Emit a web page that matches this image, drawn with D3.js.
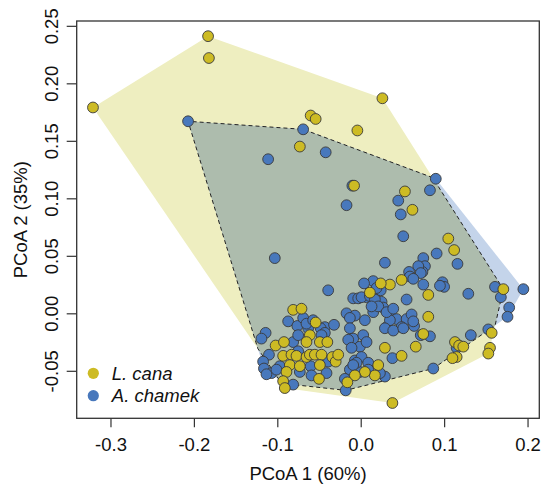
<!DOCTYPE html>
<html>
<head>
<meta charset="utf-8">
<script src="https://cdn.jsdelivr.net/npm/d3@7"></script>
<style>
  body { margin: 0; background: #fff; }
  text { font-family: "Liberation Sans", Arial, sans-serif; fill: #111; }
</style>
</head>
<body>
<div id="chart"></div>
<script>
// DATA //

// L. cana samples, [PCoA1, PCoA2]
const canaPts = [
  [-0.321,0.179],[-0.183,0.241],[-0.182,0.222],[0.026,0.187],[-0.060,0.172],[-0.054,0.169],[-0.004,0.159],[-0.073,0.145],
  [-0.008,0.111],[0.053,0.106],[0.062,0.090],[0.105,0.065],[0.112,0.055],[0.038,-0.078],[0.049,0.029],[0.035,0.025],
  [0.024,0.026],[0.011,0.018],[0.081,0.016],[0.171,0.021],[-0.081,0.003],[-0.071,0.004],[0.081,-0.003],[0.075,-0.018],
  [0.157,-0.017],[0.113,-0.025],[0.118,-0.028],[0.123,-0.029],[0.115,-0.038],[0.110,-0.039],[0.155,-0.030],[0.153,-0.035],
  [0.029,-0.030],[0.066,-0.029],[0.049,-0.037],[0.021,-0.045],[0.017,-0.054],[0.005,-0.051],[-0.007,-0.054],[-0.016,-0.060],
  [-0.054,-0.008],[-0.061,-0.019],[-0.065,-0.025],[-0.049,-0.025],[-0.040,-0.025],[-0.102,-0.028],[-0.092,-0.025],[-0.093,-0.037],
  [-0.083,-0.036],[-0.077,-0.037],[-0.065,-0.038],[-0.061,-0.036],[-0.055,-0.036],[-0.047,-0.036],[-0.085,-0.045],[-0.073,-0.046],
  [-0.049,-0.045],[-0.034,-0.038],[-0.030,-0.042],[-0.089,-0.051],[-0.093,-0.059],[-0.091,-0.065],[-0.050,-0.057],[-0.027,-0.036]
];

// A. chamek samples, [PCoA1, PCoA2]
const chamekPts = [
  [-0.207,0.167],[-0.111,0.134],[-0.069,0.160],[-0.042,0.140],[0.090,0.117],[0.083,0.107],[-0.010,0.111],[-0.017,0.094],
  [0.045,0.098],[0.048,0.086],[0.051,0.067],[-0.103,0.048],[0.029,0.044],[0.091,0.052],[0.116,0.043],[0.075,0.048],
  [0.077,0.041],[0.074,0.036],[0.069,0.041],[0.058,0.036],[0.059,0.032],[0.015,0.028],[0.004,0.026],[0.024,0.020],
  [0.019,0.022],[0.075,0.025],[0.098,0.027],[0.100,0.023],[0.095,0.024],[0.129,0.017],[0.161,0.023],[0.195,0.021],
  [0.168,0.014],[0.178,0.005],[0.176,-0.003],[-0.039,0.020],[0.055,0.012],[-0.009,0.013],[-0.003,0.013],[0.007,0.014],
  [0.025,0.010],[0.027,0.005],[-0.017,0.000],[-0.007,-0.002],[0.015,0.001],[0.005,-0.006],[0.037,-0.004],[0.043,-0.005],
  [0.055,-0.005],[0.061,-0.001],[0.031,-0.012],[0.049,-0.012],[0.064,-0.011],[0.083,-0.020],[0.132,-0.019],[0.153,-0.014],
  [0.115,-0.030],[0.087,-0.048],[0.038,-0.039],[-0.018,-0.067],[-0.087,-0.007],[-0.076,-0.011],[-0.069,-0.004],[-0.063,-0.013],
  [-0.043,-0.012],[-0.032,-0.010],[-0.114,-0.017],[-0.119,-0.022],[-0.081,-0.025],[-0.075,-0.033],[-0.110,-0.036],[-0.117,-0.042],
  [-0.116,-0.048],[-0.107,-0.052],[-0.097,-0.046],[-0.060,-0.046],[-0.039,-0.042],[-0.081,-0.062],[-0.041,-0.052],[0.029,-0.055],
  [0.001,0.014],[0.011,0.015],[0.017,0.012],[0.021,0.006],[-0.013,-0.004],[-0.013,-0.013],[-0.009,-0.022],[0.003,-0.019],
  [-0.001,-0.029],[0.007,-0.025],[0.035,-0.006],[0.063,-0.007],[0.029,-0.013],[0.039,-0.015],[0.051,-0.013],[0.072,-0.019],
  [-0.007,-0.041],[0.001,-0.038],[0.009,-0.043],[-0.013,-0.049],[-0.001,-0.051],[0.009,-0.049],[0.023,-0.052],[-0.019,-0.057],
  [0.072,0.035],[0.063,0.030],[-0.113,-0.053],[-0.101,-0.049],[-0.048,-0.013],[-0.075,-0.019],[-0.059,-0.054],[-0.043,-0.017],
  [-0.073,-0.051],[-0.015,-0.023],[-0.005,-0.043],[-0.065,-0.009],[-0.057,-0.006],[-0.011,-0.030],[-0.009,-0.045],[-0.047,-0.019],
  [0.031,0.001],[0.039,0.004],[0.013,0.006]
];

const xTicks = [-0.3, -0.2, -0.1, 0.0, 0.1, 0.2];
const yTicks = [-0.05, 0.00, 0.05, 0.10, 0.15, 0.20, 0.25];
const xLimits = [-0.3405, 0.2141];
const yLimits = [-0.0913, 0.2542];
const species = ["L. cana", "A. chamek"];
const xTitle = "PCoA 1 (60%)", yTitle = "PCoA 2 (35%)";

// STYLE //
const ptColor   = {"L. cana": "#cdbb24", "A. chamek": "#4878bc"};
const hullColor = {"L. cana": "#eeeec0", "A. chamek": "#c4d4ea"};
const overlapColor = "#adbcad";

// DIMENSIONS //
const W = 542, H = 485;
const plot = {left: 76.7, right: 539.3, top: 21, bottom: 418.3};

const svg = d3.select("#chart").append("svg")
  .attr("width", W).attr("height", H);

const x = d3.scaleLinear().domain(xLimits).range([plot.left, plot.right]);
const y = d3.scaleLinear().domain(yLimits).range([plot.bottom, plot.top]);

// HULLS //
const toPx = p => [x(p[0]), y(p[1])];
const hullCana = d3.polygonHull(canaPts.map(toPx));
const hullChamek = d3.polygonHull(chamekPts.map(toPx));

// clip one convex polygon by another (Sutherland-Hodgman)
function clipPoly(subject, clip) {
  let area = 0;
  for (let i = 0; i < clip.length; i++) {
    const a = clip[i], b = clip[(i + 1) % clip.length];
    area += a[0] * b[1] - b[0] * a[1];
  }
  const s = Math.sign(area);
  const inside = (p, a, b) => s * ((b[0] - a[0]) * (p[1] - a[1]) - (b[1] - a[1]) * (p[0] - a[0])) >= 0;
  const cross = (p, q, a, b) => {
    const d = (p[0] - q[0]) * (a[1] - b[1]) - (p[1] - q[1]) * (a[0] - b[0]);
    const t = ((p[0] - a[0]) * (a[1] - b[1]) - (p[1] - a[1]) * (a[0] - b[0])) / d;
    return [p[0] + t * (q[0] - p[0]), p[1] + t * (q[1] - p[1])];
  };
  let out = subject.slice();
  for (let i = 0; i < clip.length; i++) {
    const a = clip[i], b = clip[(i + 1) % clip.length];
    const inp = out; out = [];
    for (let j = 0; j < inp.length; j++) {
      const p = inp[j], q = inp[(j + 1) % inp.length];
      const pin = inside(p, a, b), qin = inside(q, a, b);
      if (pin) out.push(p);
      if (pin !== qin) out.push(cross(p, q, a, b));
    }
  }
  return out;
}
const overlap = clipPoly(hullChamek, hullCana);

const poly = pts => "M" + pts.map(p => p.join(",")).join("L") + "Z";

svg.append("path").attr("d", poly(hullCana)).attr("fill", hullColor["L. cana"]);
svg.append("path").attr("d", poly(hullChamek)).attr("fill", hullColor["A. chamek"]);
svg.append("path").attr("d", poly(overlap))
  .attr("fill", overlapColor)
  .attr("stroke", "#222").attr("stroke-width", 1)
  .attr("stroke-dasharray", "4,3");

// POINTS //
const groups = [["A. chamek", chamekPts], ["L. cana", canaPts]];
groups.forEach(([name, pts]) => {
  svg.append("g").selectAll("circle")
    .data(pts).enter().append("circle")
    .attr("cx", d => x(d[0]))
    .attr("cy", d => y(d[1]))
    .attr("r", 5.4)
    .attr("fill", ptColor[name])
    .attr("stroke", "#3a3a3a")
    .attr("stroke-width", 0.9);
});

// BOX //
svg.append("rect")
  .attr("x", plot.left).attr("y", plot.top)
  .attr("width", plot.right - plot.left).attr("height", plot.bottom - plot.top)
  .attr("fill", "none").attr("stroke", "#333").attr("stroke-width", 1.3);

// AXES //
const fs = "18.5px";
const fmt = f => v => d3.format(f)(v).replace("\u2212", "-");

const xAxis = svg.append("g")
  .attr("transform", "translate(0," + plot.bottom + ")")
  .call(d3.axisBottom(x).tickValues(xTicks).tickSize(9).tickFormat(fmt(".1f")));
xAxis.select(".domain").remove();
xAxis.selectAll("line").attr("stroke", "#333").attr("stroke-width", 1.2);
xAxis.selectAll("text").attr("y", 32.4).attr("dy", 0)
  .style("font-size", fs).attr("fill", "#111");

const yAxis = svg.append("g")
  .attr("transform", "translate(" + plot.left + ",0)")
  .call(d3.axisLeft(y).tickValues(yTicks).tickSize(10).tickFormat(fmt(".2f")));
yAxis.select(".domain").remove();
yAxis.selectAll("line").attr("stroke", "#333").attr("stroke-width", 1.2);
yAxis.selectAll("text")
  .attr("x", 0).attr("dy", 0)
  .attr("text-anchor", "middle")
  .attr("transform", "translate(-18.2,0) rotate(-90)")
  .style("font-size", fs).attr("fill", "#111");

// axis titles
svg.append("text")
  .attr("x", (plot.left + plot.right) / 2).attr("y", 480)
  .attr("text-anchor", "middle")
  .style("font-size", fs)
  .text(xTitle);

svg.append("text")
  .attr("transform", "translate(27," + (plot.top + plot.bottom) / 2 + ") rotate(-90)")
  .attr("text-anchor", "middle")
  .style("font-size", fs)
  .text(yTitle);

// LEGEND //
const legend = svg.append("g").attr("transform", "translate(93.3,373.3)");
species.forEach((name, i) => {
  legend.append("circle")
    .attr("cx", 0).attr("cy", i * 22.4)
    .attr("r", 5.6)
    .attr("fill", ptColor[name]);
  legend.append("text")
    .attr("x", 18.5).attr("y", i * 22.4 + 6.3)
    .style("font-size", fs)
    .style("font-style", "italic")
    .text(name);
});
</script>
</body>
</html>
